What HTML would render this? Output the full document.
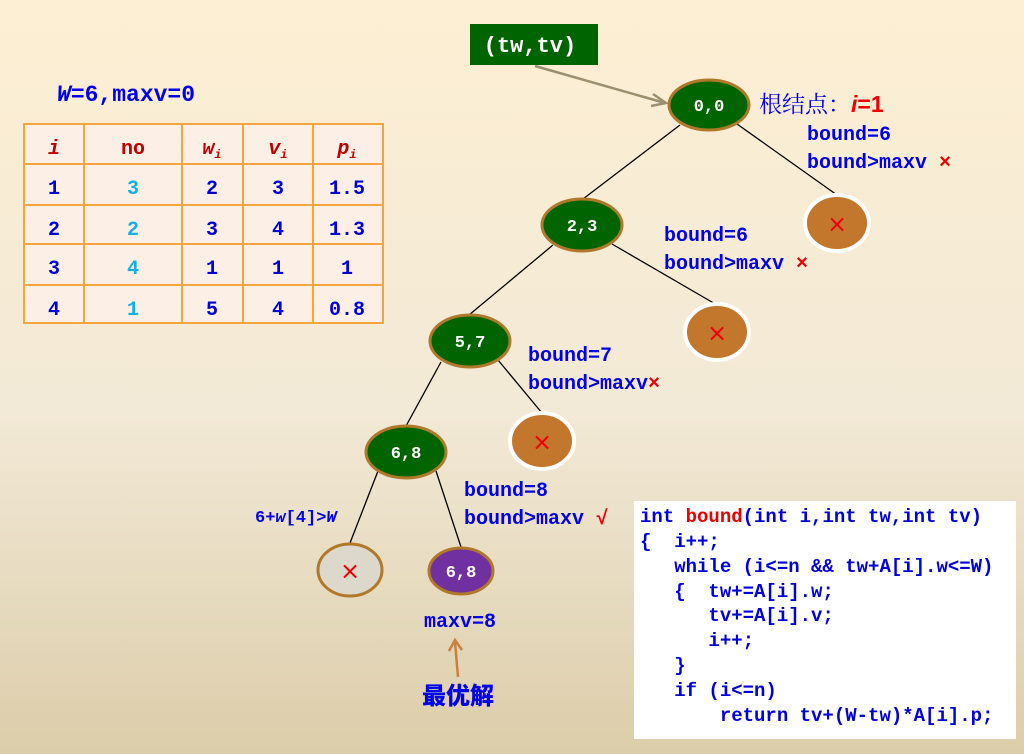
<!DOCTYPE html>
<html><head><meta charset="utf-8"><style>
body{margin:0;width:1024px;height:754px;overflow:hidden}
.pre{white-space:pre}
</style></head><body>
<svg width="1024" height="754" viewBox="0 0 1024 754" xmlns="http://www.w3.org/2000/svg" font-family="Liberation Mono, monospace" font-weight="bold" style="display:block">
<defs>
<linearGradient id="bg" x1="0" y1="0" x2="0" y2="1">
<stop offset="0" stop-color="#fdefd3"/><stop offset="0.55" stop-color="#f2e9d6"/><stop offset="1" stop-color="#dccdaa"/>
</linearGradient>
<linearGradient id="ln" x1="0" y1="0" x2="1" y2="0">
<stop offset="0" stop-color="#f3a640" stop-opacity="0"/><stop offset="0.12" stop-color="#f3a640"/><stop offset="1" stop-color="#f3a640"/>
</linearGradient>
</defs>
<rect width="1024" height="754" fill="url(#bg)"/>
<line x1="55" y1="119" x2="1024" y2="119" stroke="url(#ln)" stroke-width="2"/>
<text x="57" y="101" font-size="23" fill="#0000ee"><tspan font-style="italic">W</tspan>=6,maxv=0</text>
<!-- table -->
<rect x="24" y="124" width="359" height="199" stroke="#f3a640" stroke-width="2" fill="#fcefe6"/>
<g stroke="#f3a640" stroke-width="2">
<line x1="24" y1="164" x2="383" y2="164"/><line x1="24" y1="205" x2="383" y2="205"/>
<line x1="24" y1="244" x2="383" y2="244"/><line x1="24" y1="285" x2="383" y2="285"/>
<line x1="84" y1="124" x2="84" y2="323"/><line x1="182" y1="124" x2="182" y2="323"/>
<line x1="243" y1="124" x2="243" y2="323"/><line x1="313" y1="124" x2="313" y2="323"/>
</g>
<g font-size="20" text-anchor="middle" fill="#c00000">
<text x="54" y="154" font-style="italic">i</text>
<text x="133" y="154">no</text>
<text x="212" y="154" font-style="italic">w<tspan font-size="12" dy="4">i</tspan></text>
<text x="278" y="154" font-style="italic">v<tspan font-size="12" dy="4">i</tspan></text>
<text x="347" y="154" font-style="italic">p<tspan font-size="12" dy="4">i</tspan></text>
</g>
<g font-size="20" text-anchor="middle" fill="#0000dd">
<text x="54" y="194">1</text><text x="212" y="194">2</text><text x="278" y="194">3</text><text x="347" y="194">1.5</text>
<text x="54" y="235">2</text><text x="212" y="235">3</text><text x="278" y="235">4</text><text x="347" y="235">1.3</text>
<text x="54" y="274">3</text><text x="212" y="274">1</text><text x="278" y="274">1</text><text x="347" y="274">1</text>
<text x="54" y="315">4</text><text x="212" y="315">5</text><text x="278" y="315">4</text><text x="347" y="315">0.8</text>
</g>
<g font-size="20" text-anchor="middle" fill="#10b0e8">
<text x="133" y="194">3</text><text x="133" y="235">2</text><text x="133" y="274">4</text><text x="133" y="315">1</text>
</g>
<!-- label box -->
<rect x="470" y="24" width="128" height="41" fill="#006400"/>
<text x="530" y="52" font-size="22" fill="#fff" text-anchor="middle">(tw,tv)</text>
<line x1="535" y1="66" x2="665" y2="103" stroke="#9a9070" stroke-width="2.5"/>
<path d="M653,94 L666,103 L651,106" fill="none" stroke="#9a9070" stroke-width="2.5"/>
<!-- edges -->
<g stroke="#000" stroke-width="1.3">
<line x1="680" y1="125" x2="583" y2="199"/><line x1="737" y1="124" x2="837" y2="195"/>
<line x1="553" y1="245" x2="469" y2="315"/><line x1="612" y1="244" x2="717" y2="305"/>
<line x1="441" y1="362" x2="406" y2="426"/><line x1="498" y1="360" x2="542" y2="413"/>
<line x1="378" y1="471" x2="350" y2="543"/><line x1="436" y1="471" x2="461" y2="547"/>
</g>
<!-- nodes -->
<g stroke="#b0782a" stroke-width="3" fill="#006400">
<ellipse cx="709" cy="105" rx="40" ry="25"/>
<ellipse cx="582" cy="225" rx="40" ry="26"/>
<ellipse cx="470" cy="341" rx="40" ry="26"/>
<ellipse cx="406" cy="452" rx="40" ry="26"/>
<ellipse cx="461" cy="571" rx="32" ry="23" fill="#7030a0"/>
<ellipse cx="350" cy="570" rx="32" ry="26" fill="#ddd8cc"/>
</g>
<g stroke="#fff" stroke-width="4" fill="#c2772c">
<ellipse cx="837" cy="223" rx="32" ry="28"/>
<ellipse cx="717" cy="332" rx="32" ry="28"/>
<ellipse cx="542" cy="441" rx="32" ry="28"/>
</g>
<g font-size="17" fill="#fff" text-anchor="middle">
<text x="709" y="111">0,0</text><text x="582" y="231">2,3</text><text x="470" y="347">5,7</text>
<text x="406" y="458">6,8</text><text x="461" y="577">6,8</text>
</g>
<g font-size="24" fill="#ee0000" text-anchor="middle" font-weight="normal" font-family="DejaVu Sans, sans-serif">
<text x="837" y="232">×</text><text x="717" y="341">×</text><text x="542" y="450">×</text><text x="350" y="579">×</text>
</g>
<!-- labels -->
<text x="759" y="112" font-size="23" fill="#0000ee" font-weight="normal" font-family="Noto Serif CJK SC, serif">根结点：<tspan fill="#ee0000" font-weight="bold" font-style="italic" font-family="Liberation Sans, sans-serif">i</tspan><tspan fill="#ee0000" font-weight="bold" font-family="Liberation Sans, sans-serif">=1</tspan></text>
<g font-size="20" fill="#0000ee">
<text x="807" y="140">bound=6</text><text x="807" y="168" class="pre">bound&gt;maxv <tspan fill="#ee0000">×</tspan></text>
<text x="664" y="241">bound=6</text><text x="664" y="269" class="pre">bound&gt;maxv <tspan fill="#ee0000">×</tspan></text>
<text x="528" y="361">bound=7</text><text x="528" y="389">bound&gt;maxv<tspan fill="#ee0000">×</tspan></text>
<text x="464" y="496">bound=8</text><text x="464" y="524" class="pre">bound&gt;maxv <tspan fill="#ee0000">√</tspan></text>
<text x="424" y="627">maxv=8</text>
</g>
<text x="255" y="522" font-size="17" fill="#0000ee">6+<tspan font-style="italic">w</tspan>[4]&gt;<tspan font-style="italic">W</tspan></text>
<line x1="458" y1="677" x2="455" y2="642" stroke="#c88040" stroke-width="2.5"/>
<path d="M449,651 L455,640 L462,650" fill="none" stroke="#c88040" stroke-width="2.5"/>
<text x="458" y="704" font-size="24" fill="#0000ee" text-anchor="middle" font-family="Noto Sans CJK SC, sans-serif" font-weight="900">最优解</text>
<!-- code -->
<rect x="634" y="501" width="382" height="238" fill="#fff"/>
<g font-size="19" fill="#0000dd">
<text x="640" y="522" class="pre">int <tspan fill="#ee0000">bound</tspan>(int i,int tw,int tv)</text>
<text x="640" y="547" class="pre">{  i++;</text>
<text x="640" y="572" class="pre">   while (i&lt;=n &amp;&amp; tw+A[i].w&lt;=W)</text>
<text x="640" y="597" class="pre">   {  tw+=A[i].w;</text>
<text x="640" y="621" class="pre">      tv+=A[i].v;</text>
<text x="640" y="646" class="pre">      i++;</text>
<text x="640" y="671" class="pre">   }</text>
<text x="640" y="696" class="pre">   if (i&lt;=n)</text>
<text x="640" y="721" class="pre">       return tv+(W-tw)*A[i].p;</text>
</g>
</svg>
</body></html>
